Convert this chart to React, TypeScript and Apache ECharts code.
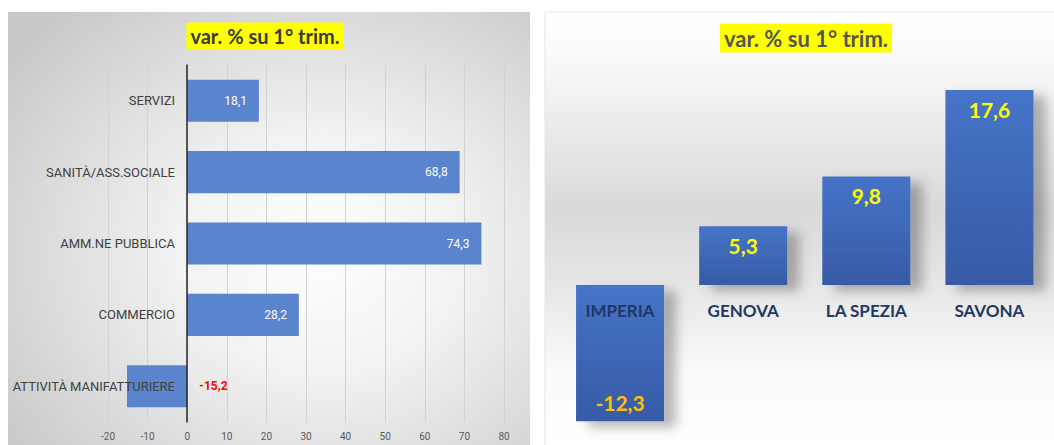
import { useEffect, useRef } from "react";
import * as echarts from "echarts";

const sectorCategories = [
  "SERVIZI",
  "SANITÀ/ASS.SOCIALE",
  "AMM.NE PUBBLICA",
  "COMMERCIO",
  "ATTIVITÀ MANIFATTURIERE",
];
const sectorValues = [18.1, 68.8, 74.3, 28.2, -15.2];
const sectorAxisMin = -20;
const sectorAxisMax = 80;
const sectorAxisStep = 10;

const provinceCategories = ["IMPERIA", "GENOVA", "LA SPEZIA", "SAVONA"];
const provinceValues = [-12.3, 5.3, 9.8, 17.6];
const provinceAxisMin = -14;
const provinceAxisMax = 20;

const titleText = "var. % su 1° trim.";

const fmt = (v: number) => v.toFixed(1).replace(".", ",");

export default function App() {
  const ref = useRef<HTMLDivElement>(null);

  useEffect(() => {
    if (!ref.current) return;
    const chart = echarts.init(ref.current, undefined, { renderer: "svg" });

    const option: any = {
      animation: false,
      graphic: [
        {
          type: "rect",
          z: -10,
          shape: { x: 8, y: 12, width: 522, height: 440 },
          style: {
            fill: new echarts.graphic.RadialGradient(0.6, 0.55, 0.75, [
              { offset: 0, color: "#ffffff" },
              { offset: 0.35, color: "#f3f3f3" },
              { offset: 1, color: "#c8c8c8" },
            ]),
          },
        },
        {
          type: "rect",
          z: -10,
          shape: { x: 545, y: 12, width: 515, height: 440 },
          style: {
            fill: new echarts.graphic.LinearGradient(0, 0, 0, 1, [
              { offset: 0, color: "#ffffff" },
              { offset: 0.08, color: "#fcfcfc" },
              { offset: 0.45, color: "#d9d9d9" },
              { offset: 0.62, color: "#e6e6e6" },
              { offset: 0.82, color: "#fbfbfb" },
              { offset: 1, color: "#ffffff" },
            ]),
            stroke: "#e4e4e4",
            lineWidth: 1,
          },
        },
        {
          type: "text",
          z: 100,
          style: {
            text: titleText,
            x: 265,
            y: 36,
            align: "center",
            verticalAlign: "middle",
            fill: "#3a3a3a",
            font: "bold 20px Lato",
            backgroundColor: "#ffff00",
            padding: [4, 4, 3, 4],
          },
        },
        {
          type: "text",
          z: 100,
          style: {
            text: titleText,
            x: 806,
            y: 38,
            align: "center",
            verticalAlign: "middle",
            fill: "#555555",
            font: "bold 22px Lato",
            backgroundColor: "#ffff00",
            padding: [4, 4, 3, 4],
          },
        },
      ],
      grid: [
        {
          left: 108,
          width: 396,
          top: 65,
          height: 357,
          containLabel: false,
          outerBoundsMode: "none",
        },
        {
          left: 558.5,
          width: 492.5,
          top: 63.4,
          height: 376.7,
          containLabel: false,
          outerBoundsMode: "none",
        },
      ],
      xAxis: [
        {
          type: "value",
          gridIndex: 0,
          min: sectorAxisMin,
          max: sectorAxisMax,
          interval: sectorAxisStep,
          axisLine: { show: false },
          axisTick: { show: false },
          splitLine: { show: true, lineStyle: { color: "#d2d2d2", width: 1 } },
          axisLabel: {
            color: "#595959",
            fontSize: 10,
            margin: 9,
            fontFamily: "Roboto",
          },
        },
        {
          type: "category",
          gridIndex: 1,
          data: provinceCategories,
          z: 5,
          axisLine: {
            show: true,
            onZero: true,
            lineStyle: { color: "rgba(0,0,0,0)" },
          },
          axisTick: { show: false },
          axisLabel: {
            color: "#1f3864",
            fontSize: 17,
            fontWeight: "bold",
            fontFamily: "Lato",
            margin: -138,
          },
        },
      ],
      yAxis: [
        {
          type: "category",
          gridIndex: 0,
          data: sectorCategories,
          inverse: true,
          z: 5,
          axisLine: {
            show: true,
            onZero: true,
            lineStyle: { color: "#262626", width: 1.5 },
          },
          axisTick: { show: false },
          axisLabel: {
            color: "#404040",
            fontSize: 13,
            fontFamily: "Roboto",
            margin: -67,
          },
        },
        {
          type: "value",
          gridIndex: 1,
          min: provinceAxisMin,
          max: provinceAxisMax,
          show: false,
          splitLine: { show: false },
        },
      ],
      series: [
        {
          type: "bar",
          xAxisIndex: 0,
          yAxisIndex: 0,
          barWidth: "59%",
          itemStyle: { color: "#5b84cf" },
          data: sectorValues.map((v) => ({
            value: v,
            label:
              v < 0
                ? {
                    position: "right",
                    distance: 12,
                    color: "#ff0000",
                    fontWeight: "bold",
                  }
                : undefined,
          })),
          label: {
            show: true,
            position: "insideRight",
            distance: 12,
            color: "#ffffff",
            fontSize: 12,
            fontFamily: "Roboto",
            formatter: (p: any) => fmt(p.value),
          },
        },
        {
          type: "bar",
          xAxisIndex: 1,
          yAxisIndex: 1,
          barWidth: "71.5%",
          itemStyle: {
            color: new echarts.graphic.LinearGradient(0, 0, 0, 1, [
              { offset: 0, color: "#4674c8" },
              { offset: 1, color: "#375aa6" },
            ]),
            shadowColor: "rgba(0,0,0,0.28)",
            shadowBlur: 12,
            shadowOffsetX: 12,
            shadowOffsetY: 6,
          },
          data: provinceValues.map((v) => ({
            value: v,
            label:
              v < 0
                ? { position: "insideBottom", distance: 8, color: "#ffc000" }
                : undefined,
          })),
          label: {
            show: true,
            position: "insideTop",
            distance: 9,
            color: "#ffff00",
            fontSize: 21,
            fontWeight: "bold",
            fontFamily: "Lato",
            formatter: (p: any) => fmt(p.value),
          },
        },
      ],
    };

    chart.setOption(option);
    return () => chart.dispose();
  }, []);

  return (
    <div
      ref={ref}
      style={{
        position: "absolute",
        left: 0,
        top: 0,
        width: 1054,
        height: 445,
        background: "#ffffff",
      }}
    />
  );
}
